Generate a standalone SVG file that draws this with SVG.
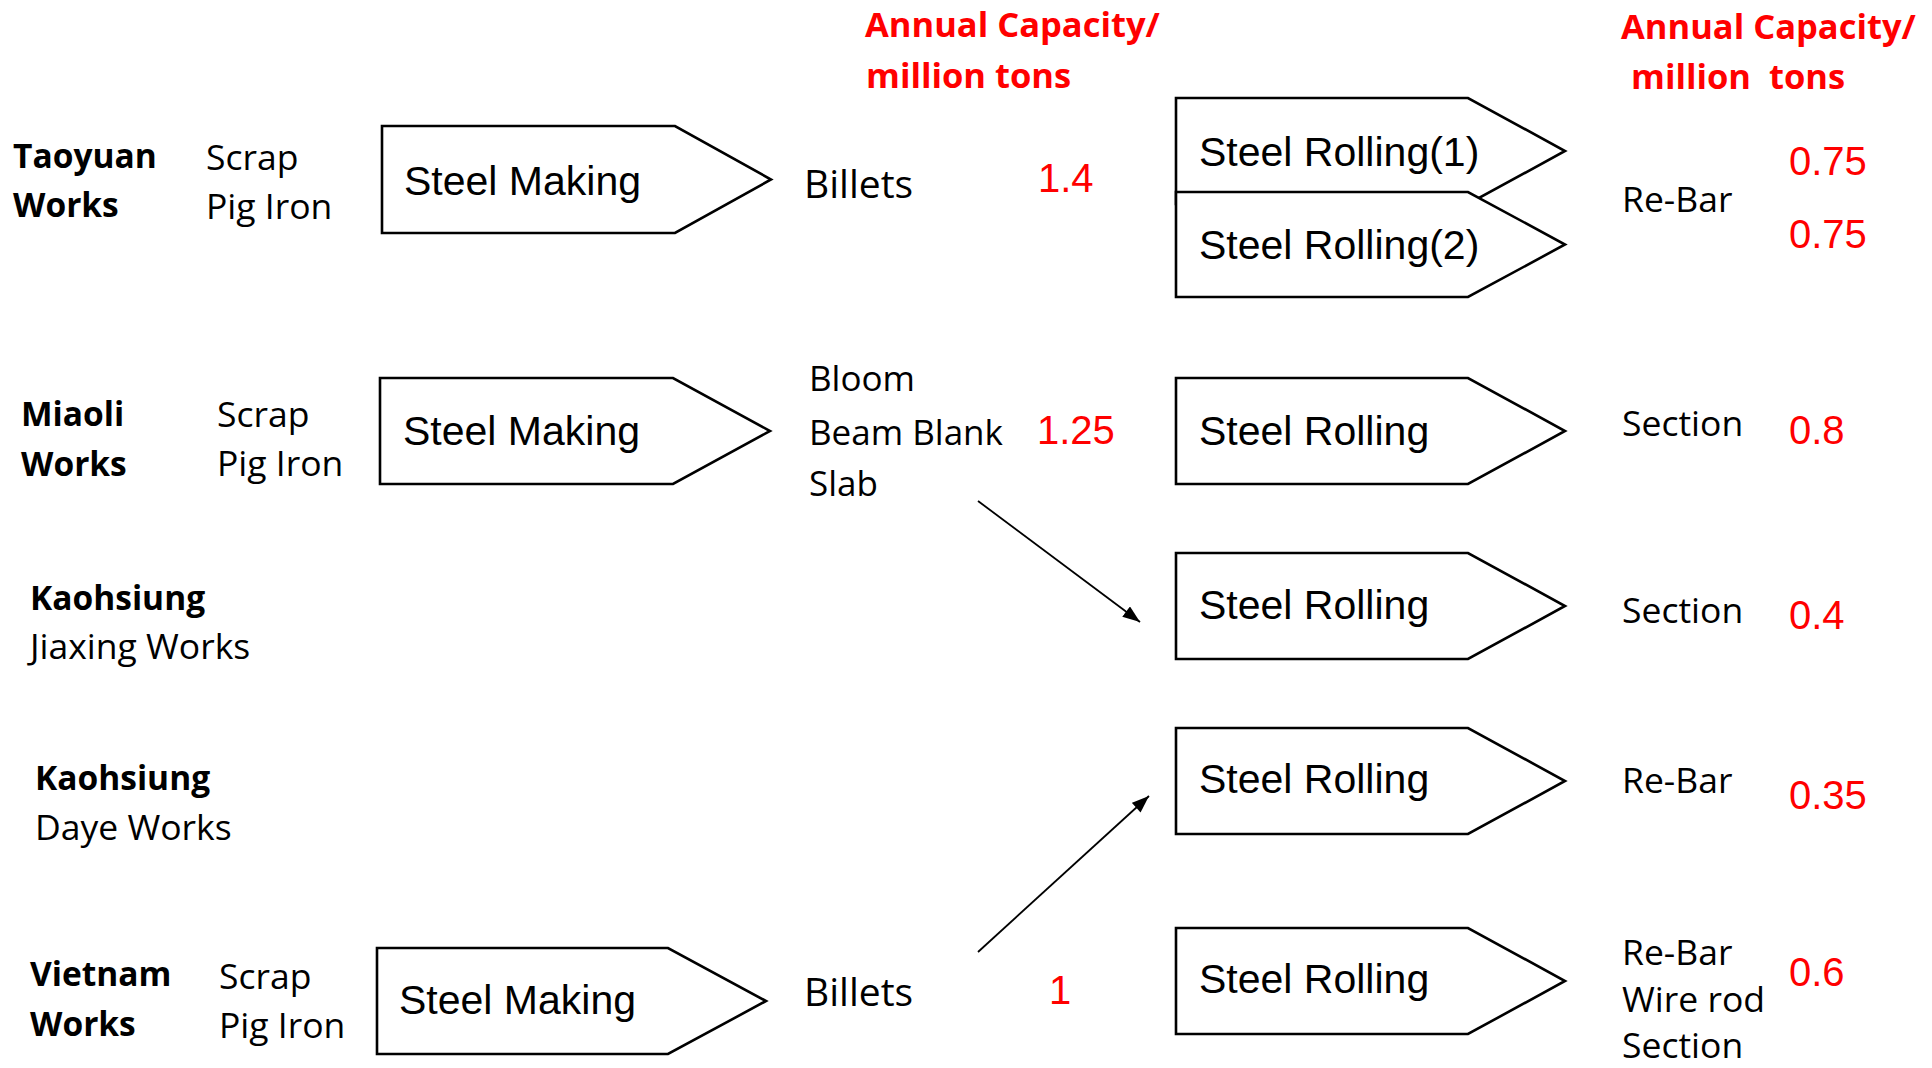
<svg xmlns="http://www.w3.org/2000/svg" width="1932" height="1068" viewBox="0 0 1932 1068">
<defs>
<style>
.box{fill:#fff;stroke:#000;stroke-width:2.6;stroke-linejoin:miter}
.bt{font-family:"Liberation Sans",Arial,sans-serif;font-size:41px;fill:#000}
.lb{font-family:"Open Sans","Noto Sans",sans-serif;font-size:33.5px;font-weight:bold;fill:#000}
.lr{font-family:"Open Sans","Noto Sans",sans-serif;font-size:35.5px;fill:#000}
.pr{font-family:"Open Sans","Noto Sans",sans-serif;font-size:35px;fill:#000}
.bl{font-family:"Open Sans","Noto Sans",sans-serif;font-size:39px;fill:#000}
.hd{font-family:"Open Sans","Noto Sans",sans-serif;font-size:34.5px;font-weight:bold;fill:#ff0000}
.num{font-family:"Liberation Sans",Arial,sans-serif;font-size:40px;fill:#ff0000}
.conn{stroke:#000;stroke-width:1.8;fill:none}
</style>
<marker id="arr" viewBox="0 0 16 12" refX="16" refY="6" markerWidth="18" markerHeight="13" markerUnits="userSpaceOnUse" orient="auto">
<path d="M0,0 L16,6 L0,12 z" fill="#000"/>
</marker>
</defs>
<rect width="1932" height="1068" fill="#fff"/>

<g id="headings">
<text class="hd" x="865" y="37">Annual Capacity/</text>
<text class="hd" x="866" y="88">million tons</text>
<text class="hd" x="1621" y="39">Annual Capacity/</text>
<text class="hd" x="1631" y="89" xml:space="preserve">million  tons</text>
</g>

<g id="taoyuan-label">
<text class="lb" x="13" y="168">Taoyuan</text>
<text class="lb" x="13" y="217">Works</text>
<text class="lr" x="206" y="170">Scrap</text>
<text class="lr" x="206" y="219">Pig Iron</text>
</g>
<g id="miaoli-label">
<text class="lb" x="21" y="426">Miaoli</text>
<text class="lb" x="21" y="476">Works</text>
<text class="lr" x="217" y="427">Scrap</text>
<text class="lr" x="217" y="476">Pig Iron</text>
</g>
<g id="jiaxing-label">
<text class="lb" x="30" y="610">Kaohsiung</text>
<text class="lr" x="30" y="659">Jiaxing Works</text>
</g>
<g id="daye-label">
<text class="lb" x="35" y="790">Kaohsiung</text>
<text class="lr" x="35" y="840">Daye Works</text>
</g>
<g id="vietnam-label">
<text class="lb" x="30" y="986">Vietnam</text>
<text class="lb" x="30" y="1036">Works</text>
<text class="lr" x="219" y="989">Scrap</text>
<text class="lr" x="219" y="1038">Pig Iron</text>
</g>

<g id="making-taoyuan">
<polygon class="box" points="382,126 675,126 771,179.5 675,233 382,233"/>
<text class="bt" x="404" y="195">Steel Making</text>
</g>
<g id="making-miaoli">
<polygon class="box" points="380,378 673,378 770,431 673,484 380,484"/>
<text class="bt" x="403" y="445">Steel Making</text>
</g>
<g id="making-vietnam">
<polygon class="box" points="377,948 668,948 766,1001 668,1054 377,1054"/>
<text class="bt" x="399" y="1014">Steel Making</text>
</g>

<g id="products-mid">
<text class="bl" x="804" y="198">Billets</text>
<text class="pr" x="809" y="391">Bloom</text>
<text class="pr" x="809" y="445">Beam Blank</text>
<text class="pr" x="809" y="496">Slab</text>
<text class="bl" x="804" y="1006">Billets</text>
<text class="num" x="1038" y="192">1.4</text>
<text class="num" x="1037" y="444">1.25</text>
<text class="num" x="1049" y="1004">1</text>
</g>

<g id="rolling-1">
<polygon class="box" points="1176,98 1468,98 1565,151 1468,204 1176,204"/>
<text class="bt" x="1199" y="166">Steel Rolling(1)</text>
</g>
<g id="rolling-2">
<polygon class="box" points="1176,192 1468,192 1565,244.5 1468,297 1176,297"/>
<text class="bt" x="1199" y="259">Steel Rolling(2)</text>
</g>
<g id="rolling-3">
<polygon class="box" points="1176,378 1468,378 1565,431 1468,484 1176,484"/>
<text class="bt" x="1199" y="445">Steel Rolling</text>
</g>
<g id="rolling-4">
<polygon class="box" points="1176,553 1468,553 1565,606 1468,659 1176,659"/>
<text class="bt" x="1199" y="619">Steel Rolling</text>
</g>
<g id="rolling-5">
<polygon class="box" points="1176,728 1468,728 1565,781 1468,834 1176,834"/>
<text class="bt" x="1199" y="793">Steel Rolling</text>
</g>
<g id="rolling-6">
<polygon class="box" points="1176,928 1468,928 1565,981 1468,1034 1176,1034"/>
<text class="bt" x="1199" y="993">Steel Rolling</text>
</g>

<g id="outputs">
<text class="lr" x="1622" y="212">Re-Bar</text>
<text class="lr" x="1622" y="436">Section</text>
<text class="lr" x="1622" y="623">Section</text>
<text class="lr" x="1622" y="793">Re-Bar</text>
<text class="lr" x="1622" y="965">Re-Bar</text>
<text class="lr" x="1622" y="1012">Wire rod</text>
<text class="lr" x="1622" y="1058">Section</text>
<text class="num" x="1789" y="175">0.75</text>
<text class="num" x="1789" y="248">0.75</text>
<text class="num" x="1789" y="444">0.8</text>
<text class="num" x="1789" y="629">0.4</text>
<text class="num" x="1789" y="809">0.35</text>
<text class="num" x="1789" y="986">0.6</text>
</g>

<g id="connectors">
<line class="conn" x1="978" y1="501" x2="1140" y2="622" marker-end="url(#arr)"/>
<line class="conn" x1="978" y1="952" x2="1149" y2="796" marker-end="url(#arr)"/>
</g>
</svg>
